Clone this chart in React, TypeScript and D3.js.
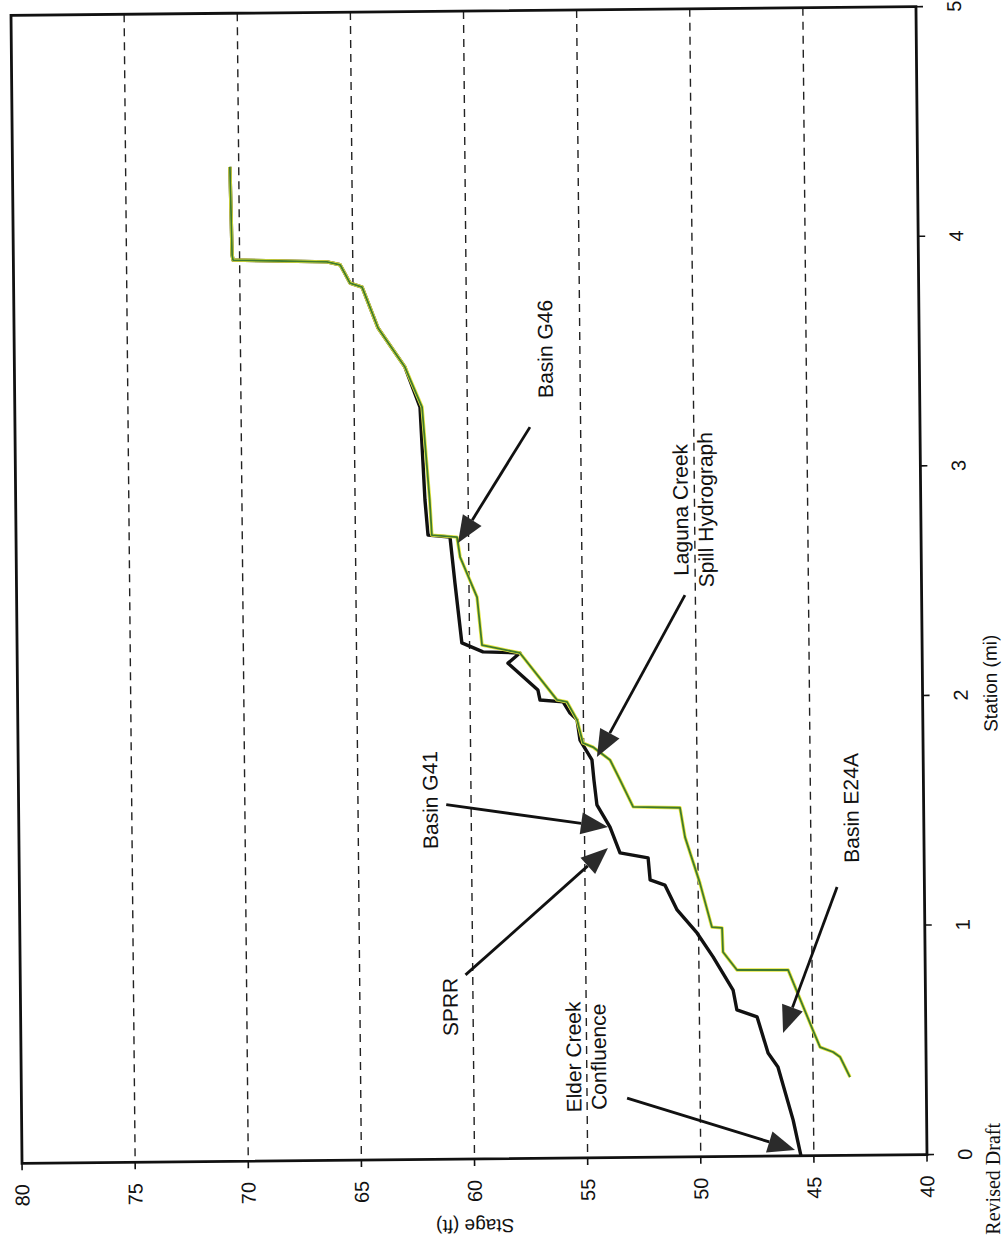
import * as React from 'react';
import * as d3 from 'd3';

// stage (ft) vs station (mi), page scanned on its side
const stageTicks = [80, 75, 70, 65, 60, 55, 50, 45, 40];
const gridStages = [75, 70, 65, 60, 55, 50, 45];
const stationTicks = [0, 1, 2, 3, 4, 5];

const blackStation = [0, 0.156, 0.388, 0.449, 0.607, 0.638, 0.725, 0.87, 0.975, 1.076, 1.185, 1.208, 1.304, 1.327, 1.44, 1.537, 1.645, 1.733, 1.82, 1.908, 1.938, 1.987, 1.996, 2.04, 2.158, 2.202, 2.208, 2.248, 2.509, 2.71, 2.719, 2.872, 3.277, 3.452, 3.623, 3.802, 3.82, 3.9, 3.913, 3.925, 3.947, 4.331];
const blackStage = [45.57, 45.9, 46.55, 46.98, 47.45, 48.34, 48.5, 49.37, 50.07, 50.94, 51.47, 52.12, 52.2, 53.44, 53.87, 54.44, 54.56, 54.64, 55.16, 55.28, 55.59, 55.89, 56.91, 57.0, 58.31, 57.78, 59.41, 60.34, 60.62, 60.82, 61.79, 61.91, 62.09, 62.74, 63.91, 64.6, 65.13, 65.56, 66.14, 70.29, 70.33, 70.39];

const greenStation = [0.341, 0.429, 0.451, 0.473, 0.547, 0.81, 0.812, 0.891, 0.996, 1.0, 1.192, 1.393, 1.521, 1.527, 1.645, 1.732, 1.789, 1.807, 1.908, 1.987, 1.996, 2.184, 2.202, 2.238, 2.447, 2.622, 2.709, 2.719, 2.87, 3.277, 3.452, 3.623, 3.802, 3.82, 3.9, 3.913, 3.925, 3.947, 4.331];
const greenStage = [43.37, 43.8, 44.11, 44.68, 44.99, 46.06, 48.32, 48.93, 48.96, 49.41, 49.92, 50.56, 50.77, 52.84, 53.41, 53.84, 54.59, 55.03, 55.28, 55.72, 56.16, 57.64, 57.78, 59.45, 59.65, 60.38, 60.51, 61.62, 61.7, 62.0, 62.74, 63.91, 64.6, 65.13, 65.56, 66.14, 70.29, 70.33, 70.39];

// annotations: label lines, label centre and arrow tail/tip as [station, stage]
const notes = [
  { lines: ['Basin G46'], at: [3.525, 56.54], from: [3.185, 57.24], to: [2.683, 60.47] },
  { lines: ['Laguna Creek', 'Spill Hydrograph'], at: [2.818, 50.07], from: [2.447, 50.46], to: [1.746, 54.42] },
  { lines: ['Basin G41'], at: [1.565, 61.81], from: [1.544, 61.1], to: [1.44, 53.96] },
  { lines: ['SPRR'], at: [0.663, 61.01], from: [0.802, 60.32], to: [1.349, 53.97] },
  { lines: ['Elder Creek', 'Confluence'], at: [0.44, 55.03], from: [0.259, 53.23], to: [0.026, 45.83] },
  { lines: ['Basin E24A'], at: [1.513, 43.21], from: [1.169, 43.86], to: [0.536, 46.31] },
];

const W = 1004;
const H = 1240;
const left = 16.5, right = 921.5, top = 11, bottom = 1159;
const cx = (left + right) / 2, cy = (top + bottom) / 2;

const sans = '"Liberation Sans", Arial, sans-serif';

function Arrow({ from, to }: { from: [number, number]; to: [number, number] }) {
  const [x1, y1] = from;
  const [x2, y2] = to;
  const len = Math.hypot(x2 - x1, y2 - y1);
  const ux = (x2 - x1) / len, uy = (y2 - y1) / len;
  const hl = 27, hw = 11;
  const bx = x2 - ux * hl, by = y2 - uy * hl;
  const pts = [
    [x2, y2],
    [bx - uy * hw, by + ux * hw],
    [bx + uy * hw, by - ux * hw],
  ];
  return (
    <g>
      <line x1={x1} y1={y1} x2={bx} y2={by} stroke="#111" strokeWidth={2.8} />
      <polygon points={pts.map(p => p.join(',')).join(' ')} fill="#2b2b2b" />
    </g>
  );
}

export default function App() {
  const stageX = d3.scaleLinear().domain([80, 40]).range([left, right]);
  const stationY = d3.scaleLinear().domain([0, 5]).range([bottom, top]);

  const line = d3.line<[number, number]>()
    .x(d => stageX(d[1]))
    .y(d => stationY(d[0]));

  const black = d3.zip(blackStation, blackStage) as [number, number][];
  const green = d3.zip(greenStation, greenStage) as [number, number][];

  return (
    <svg width={W} height={H} style={{ position: 'absolute', left: 0, top: 0, background: '#fff' }}>
      <g transform={`rotate(-0.55 ${cx} ${cy})`}>
        {gridStages.map(v => (
          <line key={v} x1={stageX(v)} x2={stageX(v)} y1={top} y2={bottom}
            stroke="#222" strokeWidth={1.4} strokeDasharray="8,6" />
        ))}

        <path d={line(black) ?? ''} fill="none" stroke="#111" strokeWidth={3.4} strokeLinejoin="round" />
        <path d={line(green) ?? ''} fill="none" stroke="#e6e640" strokeWidth={3.4} strokeLinejoin="round" />
        <path d={line(green) ?? ''} fill="none" stroke="#3f7a2e" strokeWidth={1.8} strokeLinejoin="round" />

        <rect x={left} y={top} width={right - left} height={bottom - top}
          fill="none" stroke="#111" strokeWidth={2.8} />

        {stageTicks.map(v => (
          <g key={v}>
            <line x1={stageX(v)} x2={stageX(v)} y1={bottom} y2={bottom + 7} stroke="#111" strokeWidth={1.6} />
            <text transform={`translate(${stageX(v)},${bottom + 32}) rotate(-90)`}
              textAnchor="middle" dominantBaseline="central"
              fontFamily={sans} fontSize={20} fill="#111">{v}</text>
          </g>
        ))}
        {stationTicks.map(v => (
          <g key={v}>
            <line x1={right} x2={right + 7} y1={stationY(v)} y2={stationY(v)} stroke="#111" strokeWidth={1.6} />
            <text transform={`translate(${right + 38},${stationY(v)}) rotate(-90)`}
              textAnchor="middle" dominantBaseline="central"
              fontFamily={sans} fontSize={20} fill="#111">{v}</text>
          </g>
        ))}

        <text transform={`translate(${cx},${bottom + 67}) rotate(180)`}
          textAnchor="middle" dominantBaseline="central"
          fontFamily={sans} fontSize={19} fill="#111">Stage (ft)</text>
        <text transform={`translate(${right + 68},${stationY(2.05)}) rotate(-90)`}
          textAnchor="middle" dominantBaseline="central"
          fontFamily={sans} fontSize={19} fill="#111">Station (mi)</text>

        {notes.map((n, i) => {
          const x = stageX(n.at[1]);
          const y = stationY(n.at[0]);
          const gap = 25;
          const off = -((n.lines.length - 1) * gap) / 2;
          return (
            <g key={i}>
              {n.lines.map((t, j) => (
                <text key={j} transform={`translate(${x + off + j * gap},${y}) rotate(-90)`}
                  textAnchor="middle" dominantBaseline="central"
                  fontFamily={sans} fontSize={21} fill="#111">{t}</text>
              ))}
              <Arrow from={[stageX(n.from[1]), stationY(n.from[0])]}
                to={[stageX(n.to[1]), stationY(n.to[0])]} />
            </g>
          );
        })}
      </g>

      <text transform="translate(993,1123) rotate(-90)" textAnchor="end" dominantBaseline="central"
        fontFamily='"Liberation Serif", "Times New Roman", serif' fontSize={20} fill="#111">Revised Draft</text>
    </svg>
  );
}
